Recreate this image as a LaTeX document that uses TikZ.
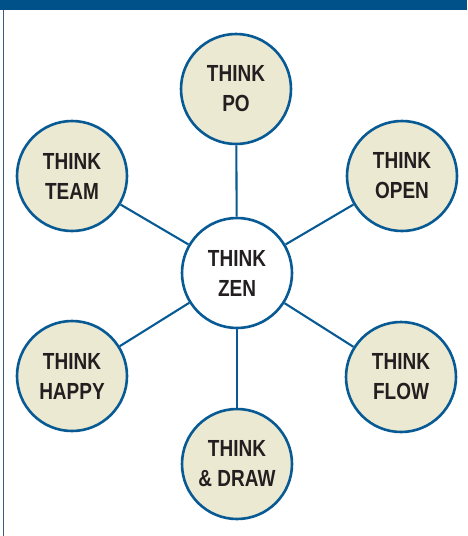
\documentclass[tikz,border=0pt]{standalone}
\usepackage{fontspec}
\setmainfont{Liberation Sans}[FakeStretch=0.815]
\definecolor{barblue}{HTML}{00508A}
\definecolor{ringblue}{HTML}{075A94}
\definecolor{beige}{HTML}{EBE9D1}
\definecolor{ink}{HTML}{231F20}
\definecolor{edgeline}{HTML}{3A5C80}
\begin{document}
\begin{tikzpicture}[x=1pt,y=-1pt,
  bubble/.style={circle, draw=ringblue, line width=2.6pt, fill=beige, minimum size=110pt, inner sep=0pt,
    align=center, text=ink, font=\bfseries\fontsize{23.3}{30}\selectfont},
  hub/.style={bubble, fill=white},
  spoke/.style={draw=ringblue, line width=2.1pt}]
\useasboundingbox (0,0) rectangle (467,536);
\fill[barblue] (0,0) rectangle (467,9.5);
\draw[edgeline, line width=1.5pt] (3.5,9.5) -- (3.5,536);
\node[hub] (zen) at (237,273) {THINK\\ZEN};
\node[bubble] (po) at (236,89) {THINK\\PO};
\node[bubble] (drw) at (237,464) {THINK\\\& DRAW};
\node[bubble] (team) at (72,176) {THINK\\TEAM};
\node[bubble] (open) at (402,176) {THINK\\OPEN};
\node[bubble] (happy) at (72,376) {THINK\\HAPPY};
\node[bubble] (flow) at (401,377) {THINK\\FLOW};
\foreach \n in {po,drw,team,open,happy,flow}
  \draw[spoke] (zen) -- (\n);
\end{tikzpicture}
\end{document}
